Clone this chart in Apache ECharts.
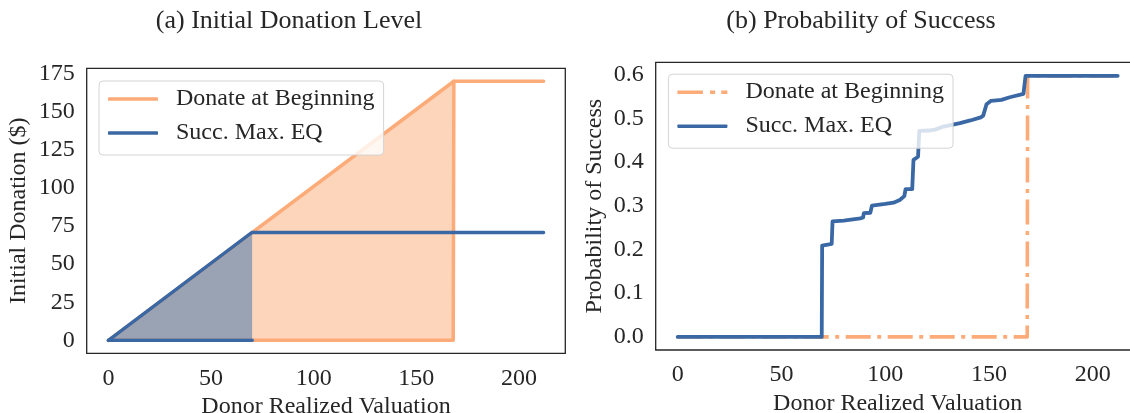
<!DOCTYPE html>
<html>
<head>
<meta charset="utf-8">
<script src="https://cdn.jsdelivr.net/npm/echarts@6/dist/echarts.min.js"></script>
<style>
html,body{margin:0;padding:0;background:#fff;}
.c{position:absolute;left:0;top:0;width:1130px;height:413px;}
</style>
</head>
<body>
<div id="a" class="c"></div>
<div id="b" class="c"></div>
<script>
// ---- data ----
const xTicks = [0, 50, 100, 150, 200];
const donationTicks = [0, 25, 50, 75, 100, 125, 150, 175];
const probTicks = [0, 0.1, 0.2, 0.3, 0.4, 0.5, 0.6];

// (a) Initial donation level
const beginX = [0, 168.3, 212];
const beginY = [0, 170, 170];
const beginBaseX = [0, 168, 168.3];
const beginBaseY = [0, 0, 170];
const beginAreaX = [0, 168.3, 168];
const beginAreaY = [0, 170, 0];
const succX = [0, 70, 212];
const succY = [0, 70.8, 70.8];
const succBaseX = [0, 70];
const succBaseY = [0, 0];
const succAreaX = [0, 70, 70];
const succAreaY = [0, 70.8, 0];

// (b) Probability of success
const probBeginX = [0, 168.4, 168.6, 212];
const probBeginY = [0, 0, 0.597, 0.597];
const probSuccX = [0, 69.4, 69.6, 74.2, 74.6, 80, 88, 89.3, 89.7, 92.8, 93.6, 100, 104, 107, 109.2, 109.8, 113, 113.6, 115.8, 116.4, 121, 124, 128, 131, 136, 141, 146, 147.2, 148.8, 151, 156, 160, 166.6, 167.6, 212];
const probSuccY = [0, 0, 0.209, 0.213, 0.264, 0.266, 0.271, 0.273, 0.283, 0.284, 0.300, 0.304, 0.307, 0.313, 0.322, 0.338, 0.338, 0.405, 0.412, 0.471, 0.472, 0.474, 0.481, 0.484, 0.489, 0.495, 0.502, 0.506, 0.532, 0.540, 0.542, 0.548, 0.556, 0.597, 0.597];

const names = ['Donate at Beginning', 'Succ. Max. EQ'];

// ---- styling ----
const FONT = 'Liberation Serif';
const TXT = '#262626';
const ORANGE = '#fdab78';
const BLUE = '#3a68a4';
const ORANGE_FILL = '#fcd5ba';
const GRAY_FILL = '#9aa3b4';
const SOLID_ICON = 'roundRect';
const DASHDOT_ICON = 'path://M0,0H25V3.4H0Z M32,0H37V3.4H32Z M43,0H49V3.4H43Z';

const zip = (xs, ys) => xs.map((x, i) => [x, ys[i]]);

function legendCfg(left, top, icons) {
  return {
    data: names.map((n, i) => ({ name: n, icon: icons[i] })),
    orient: 'vertical', left: left, top: top,
    itemWidth: 50, itemHeight: 3.6, itemGap: 10,
    padding: [6, 9, 10, 9],
    borderColor: '#d4d4d4', borderWidth: 1, borderRadius: 4,
    backgroundColor: 'rgba(255,255,255,0.8)',
    selectedMode: false,
    textStyle: { fontFamily: FONT, fontSize: 24, color: TXT, padding: [0, 0, 0, 13] }
  };
}
function xAxisCfg() {
  return {
    type: 'value', min: -10.6, max: 222.6,
    name: 'Donor Realized Valuation', nameLocation: 'middle', nameGap: 37,
    nameTextStyle: { fontFamily: FONT, fontSize: 24, color: TXT },
    axisLine: { show: false }, axisTick: { show: false }, splitLine: { show: false },
    axisLabel: { customValues: xTicks, fontFamily: FONT, fontSize: 24, color: TXT, margin: 13 }
  };
}
function gridCfg(left, top, width, height) {
  return {
    left: left, top: top, width: width, height: height,
    containLabel: false, outerBoundsMode: 'none',
    show: true, borderColor: TXT, borderWidth: 1.3, backgroundColor: 'transparent'
  };
}
function lineS(name, data, color, width, type) {
  return {
    type: 'line', name: name, data: data, symbol: 'none', silent: true,
    lineStyle: { color: color, width: width, type: type || 'solid', cap: type ? 'butt' : 'round', join: 'round' },
    itemStyle: { color: color }
  };
}
function areaS(data, color) {
  return {
    type: 'line', name: '_area', data: data, symbol: 'none', silent: true,
    lineStyle: { width: 0, opacity: 0 }, areaStyle: { color: color, opacity: 1 }
  };
}

const chartA = echarts.init(document.getElementById('a'), null, { renderer: 'canvas' });
chartA.setOption({
  animation: false,
  graphic: [{
    type: 'text', x: 289, y: 21,
    style: { text: '(a) Initial Donation Level', font: '26px "Liberation Serif"', fill: TXT, align: 'center', verticalAlign: 'middle' }
  }],
  grid: gridCfg(86.7, 68.3, 478.6, 285),
  xAxis: xAxisCfg(),
  yAxis: {
    type: 'value', min: -8.5, max: 178.5,
    name: 'Initial Donation ($)', nameLocation: 'middle', nameGap: 56,
    nameTextStyle: { fontFamily: FONT, fontSize: 24, color: TXT },
    axisLine: { show: false }, axisTick: { show: false }, splitLine: { show: false },
    axisLabel: { customValues: donationTicks, fontFamily: FONT, fontSize: 24, color: TXT, margin: 12 }
  },
  legend: legendCfg(99, 81, [SOLID_ICON, SOLID_ICON]),
  series: [
    areaS(zip(beginAreaX, beginAreaY), ORANGE_FILL),
    areaS(zip(succAreaX, succAreaY), GRAY_FILL),
    lineS(names[0], zip(beginX, beginY), ORANGE, 3.5),
    lineS('_b0', zip(beginBaseX, beginBaseY), ORANGE, 3.5),
    lineS(names[1], zip(succX, succY), BLUE, 3.5),
    lineS('_b1', zip(succBaseX, succBaseY), BLUE, 3.5)
  ]
});

const chartB = echarts.init(document.getElementById('b'), null, { renderer: 'canvas' });
chartB.setOption({
  animation: false,
  graphic: [{
    type: 'text', x: 861, y: 21,
    style: { text: '(b) Probability of Success', font: '26px "Liberation Serif"', fill: TXT, align: 'center', verticalAlign: 'middle' }
  }],
  grid: gridCfg(655.7, 62.3, 484, 287.7),
  xAxis: xAxisCfg(),
  yAxis: {
    type: 'value', min: -0.0299, max: 0.628,
    name: 'Probability of Success', nameLocation: 'middle', nameGap: 49,
    nameTextStyle: { fontFamily: FONT, fontSize: 24, color: TXT },
    axisLine: { show: false }, axisTick: { show: false }, splitLine: { show: false },
    axisLabel: { customValues: probTicks, fontFamily: FONT, fontSize: 24, color: TXT, margin: 12,
      formatter: v => Number(v).toFixed(1) }
  },
  legend: legendCfg(668.4, 74.2, [DASHDOT_ICON, SOLID_ICON]),
  series: [
    lineS(names[0], zip(probBeginX, probBeginY), ORANGE, 3.6, [25, 6.5, 4, 6.5]),
    lineS(names[1], zip(probSuccX, probSuccY), BLUE, 3.8)
  ]
});
</script>
</body>
</html>
